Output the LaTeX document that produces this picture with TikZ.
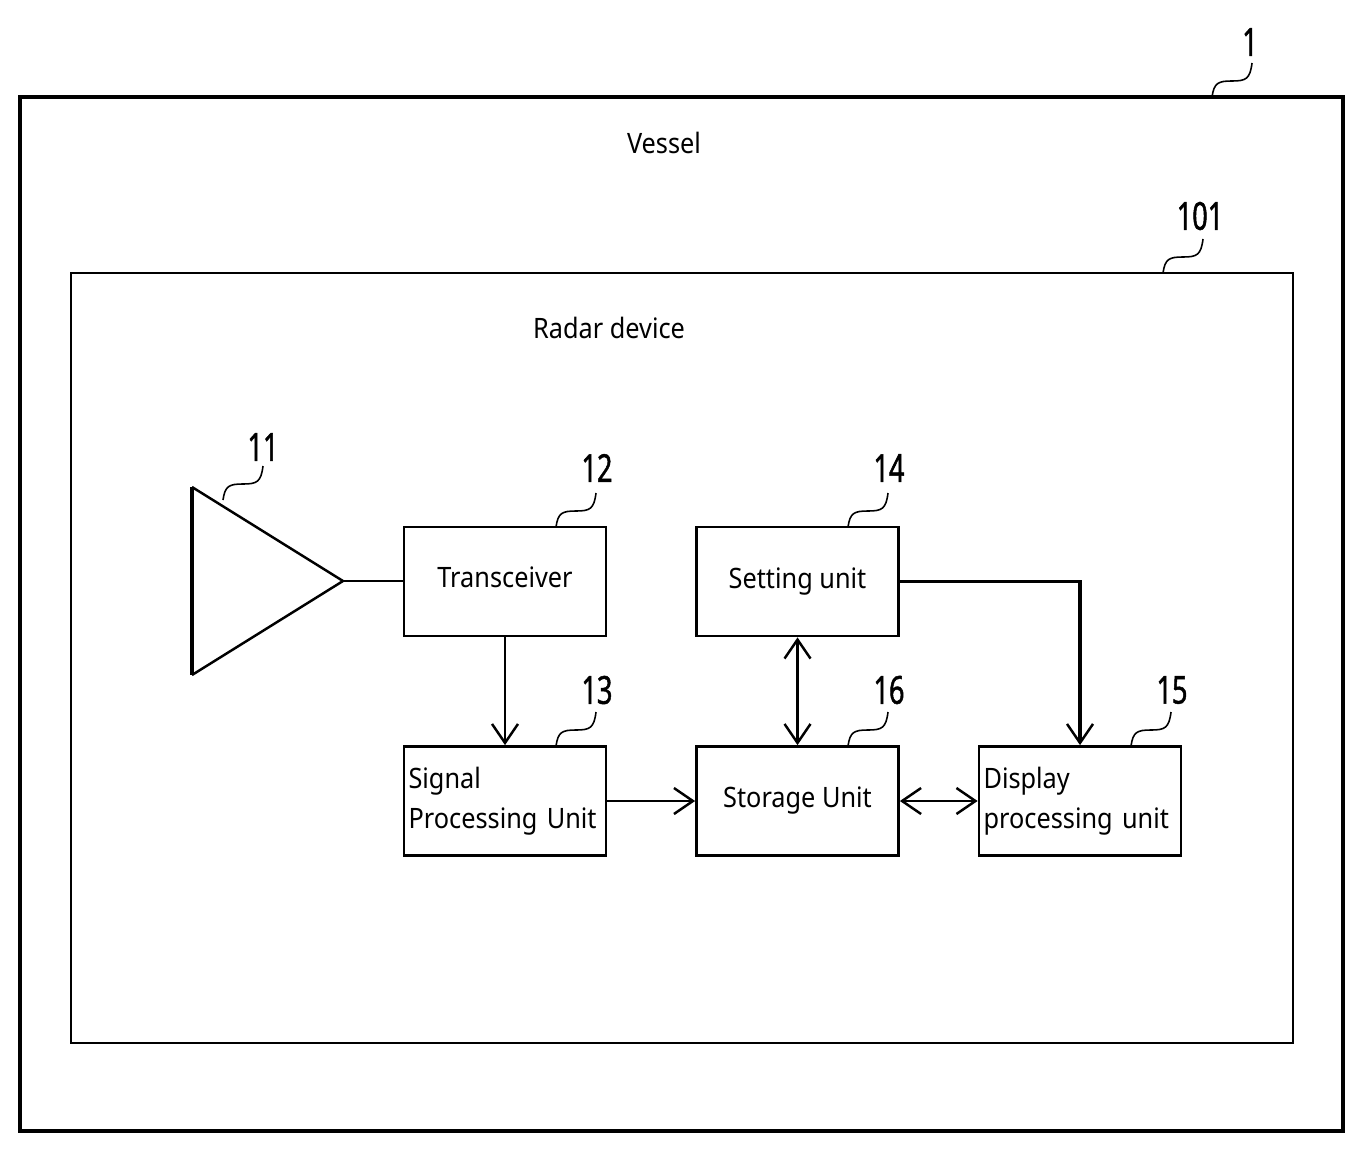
\documentclass[tikz,border=0pt]{standalone}
\usepackage{fontspec}
\setmainfont{Noto Sans}[FakeStretch=0.9]
\newfontfamily\numfont{Noto Sans}[FakeStretch=0.7, FakeBold=1.2]
\usetikzlibrary{arrows.meta}
\tikzset{
  unit/.style={draw, line width=1.6pt, minimum width=4.04cm, minimum height=2.18cm,
    inner sep=0pt, font=\fontsize{16}{22.7}\selectfont},
  refno/.style={font=\numfont\fontsize{22}{22}\selectfont, inner sep=0pt},
  leader/.style={line width=0.9pt},
  link/.style={line width=1.6pt},
  tip/.style={-{Straight Barb[length=0.38cm, width=0.52cm, line width=1.4pt]}},
  twotips/.style={{Straight Barb[length=0.38cm, width=0.52cm, line width=1.4pt]}-{Straight Barb[length=0.38cm, width=0.52cm, line width=1.4pt]}}
}
\begin{document}
\begin{tikzpicture}[x=0.02cm, y=-0.02cm]
    \useasboundingbox (0,0) rectangle (1371,1152);

    % Vessel and radar device frames
    \draw[line width=2pt] (20,97) rectangle (1343,1131);
    \node[font=\fontsize{16}{20}\selectfont] (vessel) at (664,143) {Vessel};
    \draw[line width=1.6pt] (71,273) rectangle (1293,1043);
    \node[font=\fontsize{16}{20}\selectfont] (radar) at (609,328) {Radar device};

    % Antenna
    \coordinate (antA) at (192,487);
    \coordinate (antB) at (192,675);
    \coordinate (antTip) at (343,581);
    \draw[line width=1.4pt] (antA) -- (antTip) -- (antB);
    \draw[line width=2.2pt] (antA) -- (antB);

    % Units
    \node[unit] (trx) at (505,581.5) {\raisebox{5pt}{Transceiver}\hspace{10pt}};
    \node[unit] (set) at (797.5,581.5) {Setting unit\\[-6pt]};
    \node[unit, align=left, text width=3.86cm] (sig) at (505,801) {Signal\\Processing Unit};
    \node[unit] (stor) at (797.5,801) {Storage Unit};
    \node[unit, align=left, text width=3.86cm] (disp) at (1080,801) {Display\\processing unit};

    % Connections
    \draw[link] (antTip) -- (trx.west |- antTip);
    \draw[link, tip] (trx.south -| 505,0) -- (sig.north -| 505,0);
    \draw[link, tip] (sig.east) -- (stor.west);
    \draw[link, twotips] (set.south) -- (stor.north);
    \draw[link, twotips] (stor.east) -- (disp.west);
    \draw[line width=2.2pt, tip] (set.east) -- (1080,581.5) -- (disp.north);

    % Reference numbers
    \node[refno] (n1)   at (1250,42)  {1};
    \node[refno] (n101) at (1200,216) {101};
    \node[refno] (n11)  at (263,447)  {11};
    \node[refno] (n12)  at (597,468)  {12};
    \node[refno] (n14)  at (889,468)  {14};
    \node[refno] (n13)  at (597,690)  {13};
    \node[refno] (n16)  at (889,690)  {16};
    \node[refno] (n15)  at (1172,690) {15};

    % Leader lines
    \foreach \sx/\sy in {1212/97, 1163/273, 223/500, 556/527, 848/527, 556/746, 848/746, 1131/746}
      \draw[leader, shift={(\sx,\sy)}] (0,0) .. controls (2,-14) and (6,-16) .. (20,-16)
        .. controls (34,-16) and (38,-18) .. (40,-34);
\end{tikzpicture}
\end{document}
